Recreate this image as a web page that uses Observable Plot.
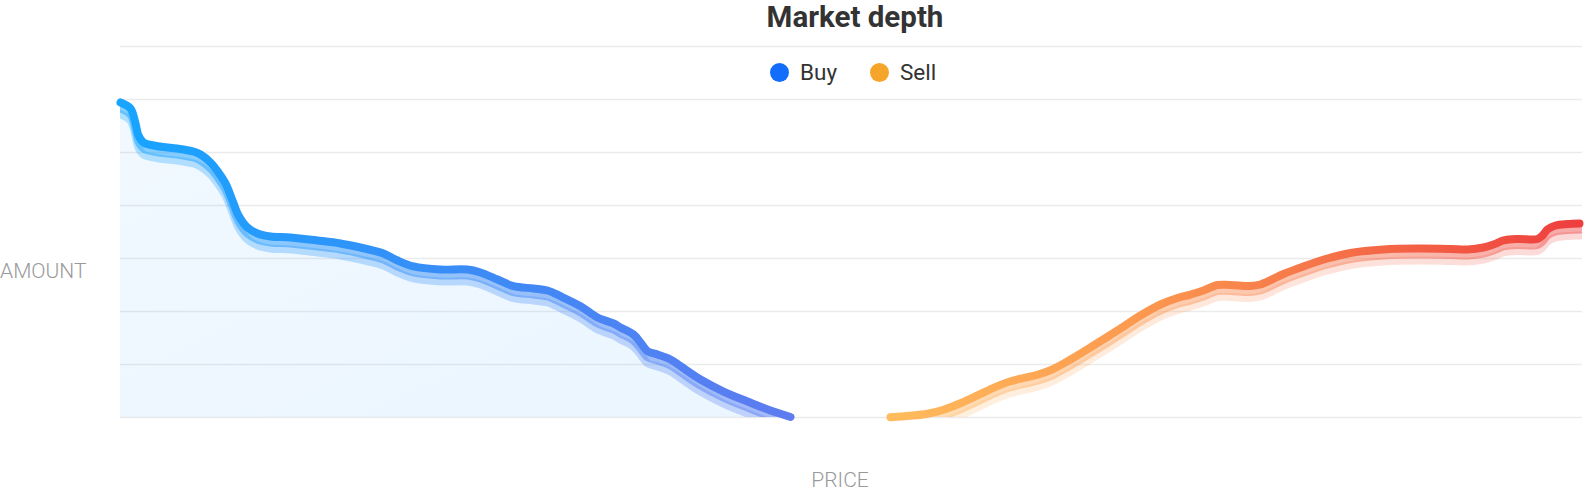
<!DOCTYPE html>
<html>
<head>
<meta charset="utf-8">
<script src="https://cdn.jsdelivr.net/npm/d3@7"></script>
<script src="https://cdn.jsdelivr.net/npm/@observablehq/plot@0.6"></script>
<style>
  html, body { margin: 0; padding: 0; background: #fff; }
  #wrap { position: relative; width: 1586px; height: 492px; overflow: hidden; font-family: Roboto, "Noto Sans", sans-serif; }
  #wrap svg { position: absolute; left: 0; top: 0; }
  .title { position: absolute; top: 0px; left: 855px; transform: translateX(-50%); font-size: 29.5px; line-height: 1.2; font-weight: 700; color: #333; white-space: nowrap; }
  .legend-item { position: absolute; top: 61px; display: flex; align-items: center; font-size: 22.5px; line-height: 22px; color: #333; }
  .legend-item .dot { width: 19px; height: 19px; border-radius: 50%; margin-right: 11px; }
  .axis-label { position: absolute; font-size: 21px; line-height: 18px; font-weight: 300; color: #999; white-space: nowrap; }
</style>
</head>
<body>
<div id="wrap"></div>
<script>
// ---- data ----
const buyPrice = [7000, 7002.5, 7003.75, 7004.5, 7005.75, 7008.25, 7011.75, 7015.75, 7018.25, 7020,
  7022.5, 7024.5, 7026.25, 7028, 7029.5, 7031.75, 7034.25, 7037.5, 7042.5, 7049.25,
  7055, 7060, 7063.25, 7065.75, 7069.25, 7073.25, 7080, 7086.75, 7090, 7094.25,
  7098.25, 7103.25, 7106.75, 7110, 7115, 7119.25, 7123.25, 7125, 7128.25, 7130,
  7131.75, 7134.25, 7137.5, 7140, 7145, 7150.75, 7156.75, 7162.5, 7167.5];
const buyAmount = [297.2, 291.5, 277.4, 266.0, 259.4, 256.6, 254.7, 252.8, 250.9, 248.1,
  240.6, 231.1, 220.8, 204.7, 190.6, 179.2, 173.6, 170.8, 169.8, 167.0,
  164.2, 160.4, 157.5, 154.7, 148.1, 142.5, 139.6, 139.6, 136.8, 130.2,
  123.9, 121.7, 119.8, 114.4, 105.0, 94.3, 88.7, 84.9, 78.3, 70.8,
  62.5, 59.4, 54.7, 48.4, 35.8, 24.5, 15.1, 6.6, 0.5];
const sellPrice = [7192.5, 7197.5, 7201.75, 7205.75, 7210, 7214.25, 7218.25, 7222.5, 7226.75, 7229.25,
  7233.25, 7237.5, 7243.25, 7249.25, 7255, 7260, 7264.25, 7267.5, 7270.75, 7274.25,
  7277.5, 7282.5, 7285, 7290.75, 7295.75, 7301.75, 7307.5, 7315.75, 7324.25, 7332.5,
  7336.75, 7340.75, 7343.25, 7345.75, 7349.25, 7354.25, 7355.5, 7356.75, 7358.75, 7361.75, 7364.75];
const sellAmount = [0.3, 1.6, 3.5, 7.3, 13.5, 20.8, 28.0, 34.2, 38.0, 40.3,
  45.9, 54.7, 67.9, 82.1, 96.2, 106.6, 112.7, 116.0, 119.8, 125.0,
  125.0, 124.1, 125.5, 135.4, 142.5, 150.0, 155.2, 158.5, 159.4, 159.0,
  158.5, 160.4, 163.2, 167.0, 168.4, 168.4, 171.7, 177.4, 181.1, 182.5, 183.0];
const amountTicks = [0, 50, 100, 150, 200, 250, 300, 350];
const seriesNames = ["Buy", "Sell"];
const seriesColors = ["#136dfb", "#f5a52a"];
const titleText = "Market depth";
const xLabel = "PRICE";
const yLabel = "AMOUNT";

const buy = buyPrice.map((p, i) => ({price: p, amount: buyAmount[i]}));
const sell = sellPrice.map((p, i) => ({price: p, amount: sellAmount[i]}));

function defs() {
  const ns = "http://www.w3.org/2000/svg";
  const d = document.createElementNS(ns, "defs");
  d.innerHTML = `
    <linearGradient id="buyStroke" x1="0" y1="0" x2="1" y2="0">
      <stop offset="0" stop-color="#16a5ff"/>
      <stop offset="0.5" stop-color="#3a8cf6"/>
      <stop offset="1" stop-color="#5e7bf0"/>
    </linearGradient>
    <linearGradient id="sellStroke" x1="0" y1="0" x2="1" y2="0">
      <stop offset="0" stop-color="#ffbb5c"/>
      <stop offset="0.35" stop-color="#fc9a50"/>
      <stop offset="0.6" stop-color="#f6784a"/>
      <stop offset="1" stop-color="#ee3e3e"/>
    </linearGradient>
    <linearGradient id="buyFill" x1="0" y1="0" x2="1" y2="1">
      <stop offset="0" stop-color="#1a96ff" stop-opacity="0.06"/>
      <stop offset="1" stop-color="#1a96ff" stop-opacity="0.09"/>
    </linearGradient>`;
  return d;
}

const curve = "catmull-rom";
// shadow layers sit 6px and 12px below the line (350 units span 371px)
const pxToAmount = 350 / 371;
const lineOpts = (id) => ({x: "price", y: "amount", curve, stroke: `url(#${id})`, strokeWidth: 8, strokeLinecap: "round", strokeLinejoin: "round"});
const shadowOpts = (id, px, op) => ({...lineOpts(id), y: d => d.amount - px * pxToAmount, strokeOpacity: op, clip: true});

const chart = Plot.plot({
  width: 1586,
  height: 492,
  marginTop: 46,
  marginBottom: 75,
  marginLeft: 120,
  marginRight: 4,
  x: {domain: [7000, 7365.5], axis: null},
  y: {domain: [0, 350], axis: null},
  marks: [
    defs,
    Plot.ruleY(amountTicks, {stroke: "#ebebeb", strokeWidth: 1.5}),
    Plot.areaY(buy, {x: "price", y: "amount", curve, fill: "url(#buyFill)"}),
    Plot.lineY(buy, shadowOpts("buyStroke", 12, 0.3)),
    Plot.lineY(buy, shadowOpts("buyStroke", 6, 0.5)),
    Plot.lineY(buy, lineOpts("buyStroke")),
    Plot.lineY(sell, shadowOpts("sellStroke", 12, 0.2)),
    Plot.lineY(sell, shadowOpts("sellStroke", 6, 0.45)),
    Plot.lineY(sell, lineOpts("sellStroke"))
  ]
});

const wrap = document.getElementById("wrap");
wrap.appendChild(chart);

const t = document.createElement("div");
t.className = "title"; t.textContent = titleText; wrap.appendChild(t);

const legendLeft = [770, 870];
seriesNames.forEach((n, i) => {
  const it = document.createElement("div");
  it.className = "legend-item";
  it.style.left = legendLeft[i] + "px";
  const dot = document.createElement("span");
  dot.className = "dot"; dot.style.background = seriesColors[i];
  const s = document.createElement("span"); s.textContent = n;
  it.appendChild(dot); it.appendChild(s);
  wrap.appendChild(it);
});

const yl = document.createElement("div");
yl.className = "axis-label"; yl.textContent = yLabel;
yl.style.left = "0px"; yl.style.top = "262px";
wrap.appendChild(yl);

const xl = document.createElement("div");
xl.className = "axis-label"; xl.textContent = xLabel;
xl.style.left = "840px"; xl.style.top = "471px"; xl.style.transform = "translateX(-50%)";
wrap.appendChild(xl);
</script>
</body>
</html>
